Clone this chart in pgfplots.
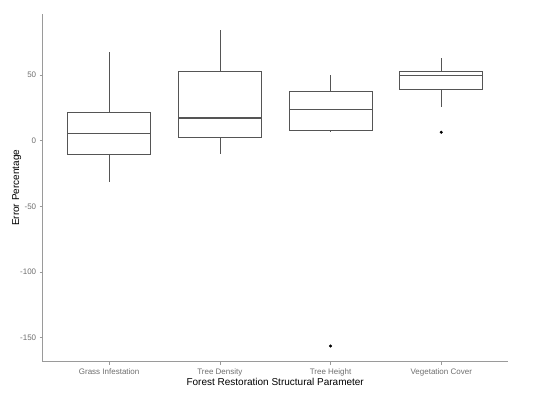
\documentclass[border=0pt]{standalone}
\usepackage{fontspec}
\setmainfont{Liberation Sans}
\usepackage{pgfplots}
\pgfplotsset{compat=1.18}
\usepgfplotslibrary{statistics}

\definecolor{boxline}{HTML}{555555}
\definecolor{axline}{HTML}{9A9A9A}
\definecolor{ticktext}{HTML}{6E6E6E}

\begin{document}
\begin{tikzpicture}
\path[use as bounding box] (0,0) rectangle (550pt,395pt);
\begin{axis}[
  at={(42.7pt,33.3pt)}, anchor=south west,
  scale only axis, width=465pt, height=347.7pt,
  xmin=0.4, xmax=4.6, ymin=-168.3, ymax=96.5,
  axis x line*=bottom, axis y line*=left,
  axis line style={axline, line width=1pt, -},
  xtick={1,2,3,4},
  xticklabels={Grass Infestation, Tree Density, Tree Height, Vegetation Cover},
  ytick={-150,-100,-50,0,50},
  tick style={axline, line width=0.6pt},
  major tick length=3pt,
  tick align=outside,
  tick label style={font=\fontsize{8}{9}\selectfont, text=ticktext},
  /pgf/number format/assume math mode=true,
  xlabel={Forest Restoration Structural Parameter},
  ylabel={Error Percentage},
  label style={font=\fontsize{10}{12}\selectfont, text=black},
  xlabel style={yshift=4pt},
  ylabel style={yshift=-8pt},
  boxplot/draw direction=y,
  boxplot/box extend=0.75,
  boxplot/whisker extend=0,
]
% Grass Infestation
\addplot[boxline, line width=0.6pt, solid,
  boxplot prepared={draw position=1, lower whisker=-31.7, lower quartile=-10.1,
    median=5.6, upper quartile=21.9, upper whisker=67.8},
  boxplot/every median/.style={line width=1.3pt}]
  coordinates {};
% Tree Density
\addplot[boxline, line width=0.6pt, solid,
  boxplot prepared={draw position=2, lower whisker=-10.4, lower quartile=2.3,
    median=17.3, upper quartile=52.6, upper whisker=84.3},
  boxplot/every median/.style={line width=1.3pt}]
  coordinates {};
% Tree Height
\addplot[boxline, line width=0.6pt, solid, mark=*, mark size=1.2pt, mark options={fill=black, draw=black},
  boxplot prepared={draw position=3, lower whisker=7.0, lower quartile=7.9,
    median=23.9, upper quartile=37.3, upper whisker=50.0},
  boxplot/every median/.style={line width=1.3pt}]
  coordinates {(0,-156.4)};
% Vegetation Cover
\addplot[boxline, line width=0.6pt, solid, mark=*, mark size=1.2pt, mark options={fill=black, draw=black},
  boxplot prepared={draw position=4, lower whisker=25.7, lower quartile=38.8,
    median=49.8, upper quartile=52.6, upper whisker=62.7},
  boxplot/every median/.style={line width=1.3pt}]
  coordinates {(0,6.4)};
\end{axis}
\end{tikzpicture}
\end{document}
